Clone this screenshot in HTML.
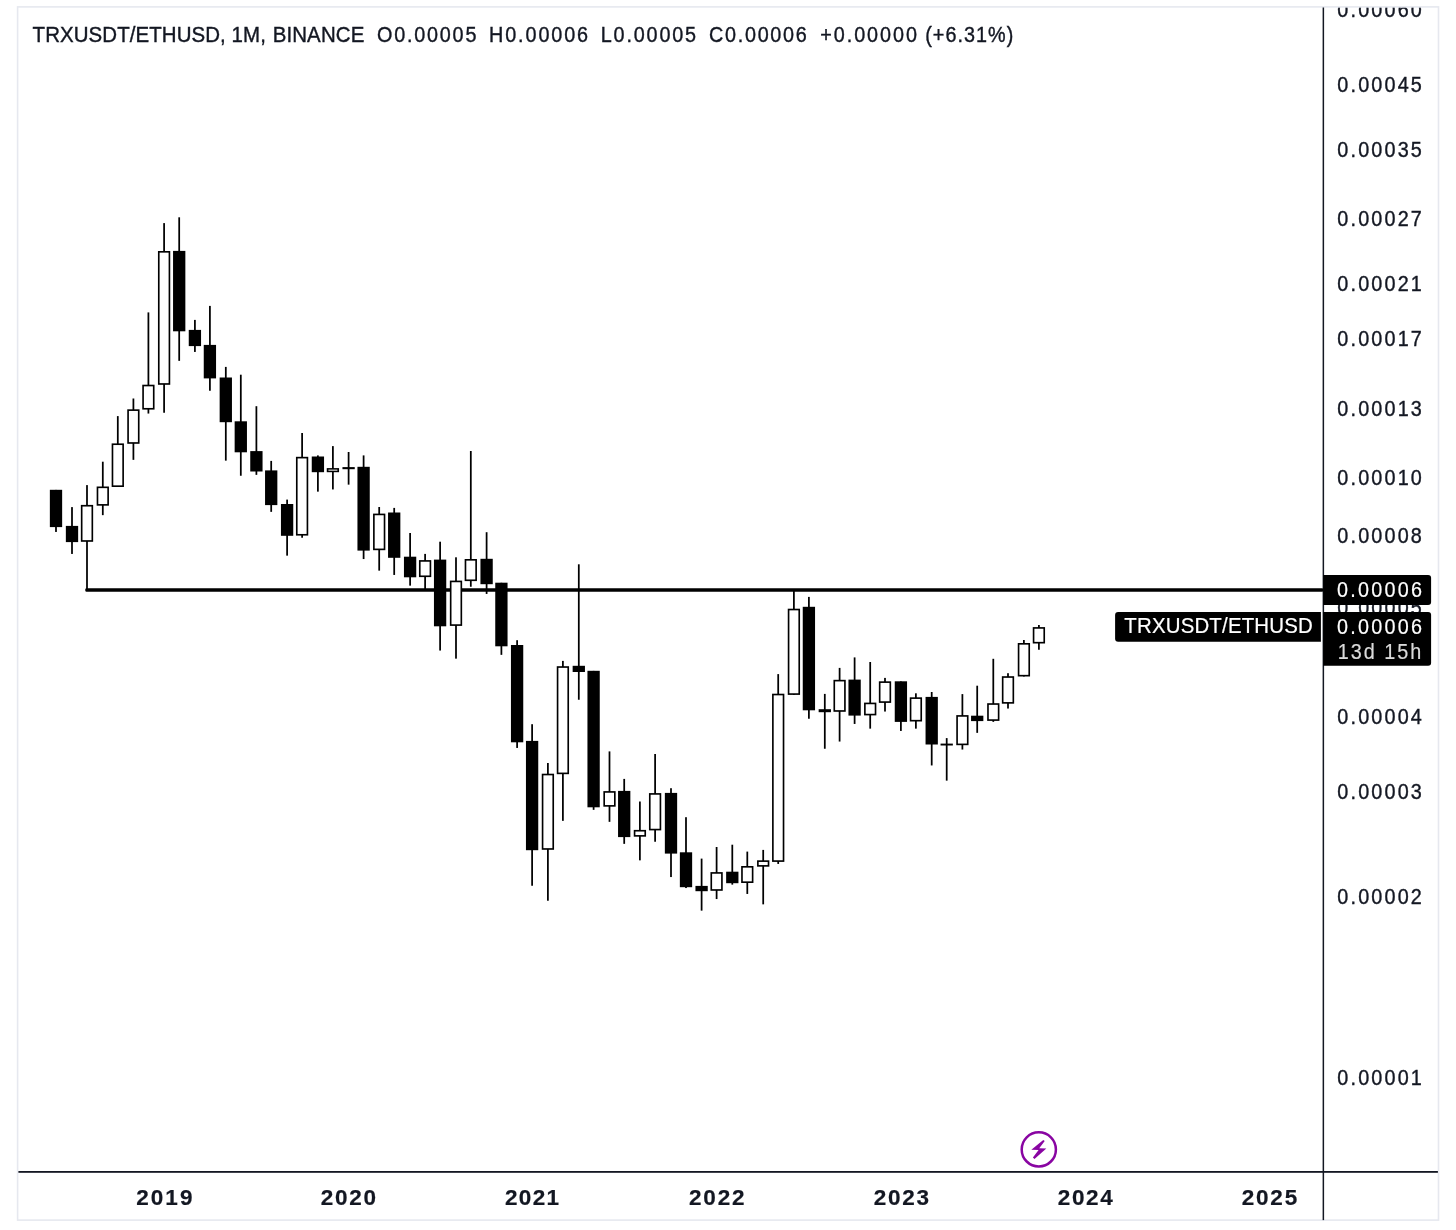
<!DOCTYPE html>
<html lang="en"><head><meta charset="utf-8"><title>TRXUSDT/ETHUSD, 1M, BINANCE</title>
<style>html,body{margin:0;padding:0;background:#fff;}body{width:1456px;height:1230px;overflow:hidden;font-family:"Liberation Sans",sans-serif;}svg{display:block}</style>
</head><body>
<div id="chart" style="will-change:transform;width:1456px;height:1230px">
<svg width="1456" height="1230" viewBox="0 0 1456 1230" font-family="Liberation Sans, sans-serif" xml:space="preserve">
<rect width="1456" height="1230" fill="#fff"/>
<!-- price scale labels (clipped by frame) -->
<clipPath id="cp"><rect x="17.6" y="6.9" width="1420.9" height="1213.2"/></clipPath>
<g clip-path="url(#cp)">
<text transform="translate(1337.35,16.7) scale(0.9,1)" font-size="22" letter-spacing="2.407" fill="#131722" stroke="#131722" stroke-width="0.4">0.00060</text>
<text transform="translate(1337.35,92.2) scale(0.9,1)" font-size="22" letter-spacing="2.407" fill="#131722" stroke="#131722" stroke-width="0.4">0.00045</text>
<text transform="translate(1337.35,157) scale(0.9,1)" font-size="22" letter-spacing="2.407" fill="#131722" stroke="#131722" stroke-width="0.4">0.00035</text>
<text transform="translate(1337.35,225.9) scale(0.9,1)" font-size="22" letter-spacing="2.407" fill="#131722" stroke="#131722" stroke-width="0.4">0.00027</text>
<text transform="translate(1337.35,290.9) scale(0.9,1)" font-size="22" letter-spacing="2.407" fill="#131722" stroke="#131722" stroke-width="0.4">0.00021</text>
<text transform="translate(1337.35,346) scale(0.9,1)" font-size="22" letter-spacing="2.407" fill="#131722" stroke="#131722" stroke-width="0.4">0.00017</text>
<text transform="translate(1337.35,416.4) scale(0.9,1)" font-size="22" letter-spacing="2.407" fill="#131722" stroke="#131722" stroke-width="0.4">0.00013</text>
<text transform="translate(1337.35,484.9) scale(0.9,1)" font-size="22" letter-spacing="2.407" fill="#131722" stroke="#131722" stroke-width="0.4">0.00010</text>
<text transform="translate(1337.35,543.2) scale(0.9,1)" font-size="22" letter-spacing="2.407" fill="#131722" stroke="#131722" stroke-width="0.4">0.00008</text>
<text transform="translate(1337.35,614.6) scale(0.9,1)" font-size="22" letter-spacing="2.407" fill="#131722" stroke="#131722" stroke-width="0.4">0.00005</text>
<text transform="translate(1337.35,723.9) scale(0.9,1)" font-size="22" letter-spacing="2.407" fill="#131722" stroke="#131722" stroke-width="0.4">0.00004</text>
<text transform="translate(1337.35,799.1) scale(0.9,1)" font-size="22" letter-spacing="2.407" fill="#131722" stroke="#131722" stroke-width="0.4">0.00003</text>
<text transform="translate(1337.35,904.4) scale(0.9,1)" font-size="22" letter-spacing="2.407" fill="#131722" stroke="#131722" stroke-width="0.4">0.00002</text>
<text transform="translate(1337.35,1085.4) scale(0.9,1)" font-size="22" letter-spacing="2.407" fill="#131722" stroke="#131722" stroke-width="0.4">0.00001</text>
</g>
<!-- frame -->
<rect x="17.6" y="6.9" width="1420.9" height="1213.2" fill="none" stroke="#e6e8ef" stroke-width="1.6"/>
<!-- axes -->
<rect x="1322.6" y="7.5" width="1.5" height="1212.6" fill="#131722"/>
<rect x="18.4" y="1171.0" width="1419.5" height="1.8" fill="#131722"/>
<!-- header -->
<g>
<text transform="translate(32.6,42) scale(0.93,1)" font-size="22" letter-spacing="0.088" fill="#131722" stroke="#131722" stroke-width="0.4">TRXUSDT/ETHUSD,</text>
<text transform="translate(231.5,42) scale(0.93,1)" font-size="22" letter-spacing="0.242" fill="#131722" stroke="#131722" stroke-width="0.4">1M,</text>
<text transform="translate(272.65,42) scale(0.93,1)" font-size="22" letter-spacing="0.134" fill="#131722" stroke="#131722" stroke-width="0.4">BINANCE</text>
<text transform="translate(377,42) scale(0.9,1)" font-size="22" letter-spacing="1.984" fill="#131722" stroke="#131722" stroke-width="0.4">O0.00005</text>
<text transform="translate(489.05,42) scale(0.9,1)" font-size="22" letter-spacing="2.103" fill="#131722" stroke="#131722" stroke-width="0.4">H0.00006</text>
<text transform="translate(600.75,42) scale(0.9,1)" font-size="22" letter-spacing="2.032" fill="#131722" stroke="#131722" stroke-width="0.4">L0.00005</text>
<text transform="translate(709,42) scale(0.9,1)" font-size="22" letter-spacing="1.905" fill="#131722" stroke="#131722" stroke-width="0.4">C0.00006</text>
<text transform="translate(820.3,42) scale(0.9,1)" font-size="22" letter-spacing="2.151" fill="#131722" stroke="#131722" stroke-width="0.4">+0.00000</text>
<text transform="translate(925.15,42) scale(0.9,1)" font-size="22" letter-spacing="1.167" fill="#131722" stroke="#131722" stroke-width="0.4">(+6.31%)</text>
<text transform="translate(136.15,1204.9) scale(1.0,1)" font-size="22.5" font-weight="700" letter-spacing="2.067" fill="#131722" stroke="#131722" stroke-width="0.2">2019</text>
<text transform="translate(320.85,1204.9) scale(1.0,1)" font-size="22.5" font-weight="700" letter-spacing="1.733" fill="#131722" stroke="#131722" stroke-width="0.2">2020</text>
<text transform="translate(505.05,1204.9) scale(1.0,1)" font-size="22.5" font-weight="700" letter-spacing="1.283" fill="#131722" stroke="#131722" stroke-width="0.2">2021</text>
<text transform="translate(689.05,1204.9) scale(1.0,1)" font-size="22.5" font-weight="700" letter-spacing="1.800" fill="#131722" stroke="#131722" stroke-width="0.2">2022</text>
<text transform="translate(873.65,1204.9) scale(1.0,1)" font-size="22.5" font-weight="700" letter-spacing="1.800" fill="#131722" stroke="#131722" stroke-width="0.2">2023</text>
<text transform="translate(1057.75,1204.9) scale(1.0,1)" font-size="22.5" font-weight="700" letter-spacing="1.650" fill="#131722" stroke="#131722" stroke-width="0.2">2024</text>
<text transform="translate(1241.65,1204.9) scale(1.0,1)" font-size="22.5" font-weight="700" letter-spacing="1.817" fill="#131722" stroke="#131722" stroke-width="0.2">2025</text>
</g>
<!-- horizontal ray -->
<rect x="85.3" y="588.2" width="1238" height="3.5" rx="1.2" fill="#000000"/>
<!-- candles -->
<g fill="#000000" shape-rendering="auto">
<rect x="55.12" y="489.9" width="1.75" height="42.05"/>
<rect x="49.85" y="489.8" width="12.3" height="37.3"/>
<rect x="71.12" y="507.1" width="1.75" height="46.85"/>
<rect x="65.85" y="525.9" width="12.3" height="16.2"/>
<rect x="86.12" y="485.1" width="1.75" height="105.05"/>
<rect x="80.85" y="504.9" width="12.3" height="36.9"/>
<rect x="82.5" y="506.55" width="9" height="33.6" fill="#fff"/>
<rect x="101.92" y="461.7" width="1.75" height="53.45"/>
<rect x="96.65" y="486.5" width="12.3" height="19.2"/>
<rect x="98.3" y="488.15" width="9" height="15.9" fill="#fff"/>
<rect x="116.92" y="416.1" width="1.75" height="70.9"/>
<rect x="111.65" y="443.4" width="12.3" height="43.6"/>
<rect x="113.3" y="445.05" width="9" height="40.3" fill="#fff"/>
<rect x="132.53" y="398.5" width="1.75" height="61.35"/>
<rect x="127.25" y="409.3" width="12.3" height="34.5"/>
<rect x="128.9" y="410.95" width="9" height="31.2" fill="#fff"/>
<rect x="147.53" y="312.4" width="1.75" height="101.15"/>
<rect x="142.25" y="384.7" width="12.3" height="24.9"/>
<rect x="143.9" y="386.35" width="9" height="21.6" fill="#fff"/>
<rect x="163.22" y="223.1" width="1.75" height="189.65"/>
<rect x="157.95" y="251" width="12.3" height="133.8"/>
<rect x="159.6" y="252.65" width="9" height="130.5" fill="#fff"/>
<rect x="178.32" y="217.3" width="1.75" height="143.55"/>
<rect x="173.05" y="250.9" width="12.3" height="80.4"/>
<rect x="194.03" y="319.9" width="1.75" height="32.05"/>
<rect x="188.75" y="329.9" width="12.3" height="16.2"/>
<rect x="209.03" y="305.9" width="1.75" height="84.85"/>
<rect x="203.75" y="344.9" width="12.3" height="33.5"/>
<rect x="224.93" y="366.9" width="1.75" height="93.75"/>
<rect x="219.65" y="377.5" width="12.3" height="44.7"/>
<rect x="239.93" y="374.7" width="1.75" height="101.05"/>
<rect x="234.65" y="421.3" width="12.3" height="31"/>
<rect x="255.52" y="406.2" width="1.75" height="68.65"/>
<rect x="250.25" y="451.1" width="12.3" height="20.4"/>
<rect x="270.32" y="460.9" width="1.75" height="50.95"/>
<rect x="265.05" y="470.4" width="12.3" height="34.7"/>
<rect x="286.23" y="499.6" width="1.75" height="56.05"/>
<rect x="280.95" y="504" width="12.3" height="31.8"/>
<rect x="301.23" y="433" width="1.75" height="104.75"/>
<rect x="295.95" y="456.8" width="12.3" height="78.8"/>
<rect x="297.6" y="458.45" width="9" height="75.5" fill="#fff"/>
<rect x="317.02" y="455.4" width="1.75" height="36.25"/>
<rect x="311.75" y="456.5" width="12.3" height="15.7"/>
<rect x="332.02" y="446.1" width="1.75" height="43.35"/>
<rect x="326.75" y="468.1" width="12.3" height="4.1"/>
<rect x="328.4" y="469.65" width="9" height="1" fill="#fff"/>
<rect x="347.73" y="452" width="1.75" height="32.65"/>
<rect x="342.45" y="467.1" width="12.3" height="2.1"/>
<rect x="362.73" y="455.4" width="1.75" height="103.65"/>
<rect x="357.45" y="466.8" width="12.3" height="83.8"/>
<rect x="378.32" y="507" width="1.75" height="63.65"/>
<rect x="373.05" y="513.6" width="12.3" height="36.6"/>
<rect x="374.7" y="515.25" width="9" height="33.3" fill="#fff"/>
<rect x="393.32" y="507.9" width="1.75" height="67.05"/>
<rect x="388.05" y="512.5" width="12.3" height="45.3"/>
<rect x="409.23" y="533" width="1.75" height="52.65"/>
<rect x="403.95" y="556.7" width="12.3" height="20.6"/>
<rect x="424.23" y="553.9" width="1.75" height="35.25"/>
<rect x="418.95" y="560.1" width="12.3" height="17"/>
<rect x="420.6" y="561.75" width="9" height="13.7" fill="#fff"/>
<rect x="439.23" y="541.7" width="1.75" height="108.85"/>
<rect x="433.95" y="559.6" width="12.3" height="66.7"/>
<rect x="455.12" y="557.3" width="1.75" height="101.35"/>
<rect x="449.85" y="580.6" width="12.3" height="45.3"/>
<rect x="451.5" y="582.25" width="9" height="42" fill="#fff"/>
<rect x="469.93" y="451" width="1.75" height="135.75"/>
<rect x="464.65" y="559" width="12.3" height="22.1"/>
<rect x="466.3" y="560.65" width="9" height="18.8" fill="#fff"/>
<rect x="485.73" y="532.2" width="1.75" height="61.75"/>
<rect x="480.45" y="558.8" width="12.3" height="25.4"/>
<rect x="500.52" y="582.8" width="1.75" height="72.05"/>
<rect x="495.25" y="582.7" width="12.3" height="63.6"/>
<rect x="516.23" y="640.2" width="1.75" height="107.75"/>
<rect x="510.95" y="645" width="12.3" height="97.3"/>
<rect x="531.23" y="724.2" width="1.75" height="161.55"/>
<rect x="525.95" y="740.9" width="12.3" height="109.3"/>
<rect x="547.02" y="763" width="1.75" height="137.75"/>
<rect x="541.75" y="773.7" width="12.3" height="76.1"/>
<rect x="543.4" y="775.35" width="9" height="72.8" fill="#fff"/>
<rect x="562.02" y="660.9" width="1.75" height="159.95"/>
<rect x="556.75" y="666.2" width="12.3" height="108"/>
<rect x="558.4" y="667.85" width="9" height="104.7" fill="#fff"/>
<rect x="577.92" y="564.3" width="1.75" height="135.45"/>
<rect x="572.65" y="665.8" width="12.3" height="6.2"/>
<rect x="592.73" y="670.9" width="1.75" height="138.95"/>
<rect x="587.45" y="670.8" width="12.3" height="136.5"/>
<rect x="608.62" y="751.4" width="1.75" height="70.45"/>
<rect x="603.35" y="791.1" width="12.3" height="15.6"/>
<rect x="605" y="792.75" width="9" height="12.3" fill="#fff"/>
<rect x="623.33" y="778.9" width="1.75" height="64.95"/>
<rect x="618.05" y="790.9" width="12.3" height="46.2"/>
<rect x="639.02" y="801.5" width="1.75" height="58.85"/>
<rect x="633.75" y="829.9" width="12.3" height="6.8"/>
<rect x="635.4" y="831.55" width="9" height="3.5" fill="#fff"/>
<rect x="654.23" y="754" width="1.75" height="87.75"/>
<rect x="648.95" y="793.1" width="12.3" height="37.3"/>
<rect x="650.6" y="794.75" width="9" height="34" fill="#fff"/>
<rect x="670.12" y="788.2" width="1.75" height="88.85"/>
<rect x="664.85" y="792.9" width="12.3" height="60.7"/>
<rect x="685.12" y="817.2" width="1.75" height="70.85"/>
<rect x="679.85" y="852.3" width="12.3" height="34.9"/>
<rect x="700.73" y="858.6" width="1.75" height="52.05"/>
<rect x="695.45" y="885.9" width="12.3" height="5.3"/>
<rect x="715.73" y="847" width="1.75" height="52.05"/>
<rect x="710.45" y="872.1" width="12.3" height="18.7"/>
<rect x="712.1" y="873.75" width="9" height="15.4" fill="#fff"/>
<rect x="731.42" y="844.7" width="1.75" height="39.95"/>
<rect x="726.15" y="871.7" width="12.3" height="11.5"/>
<rect x="746.42" y="851.6" width="1.75" height="42.35"/>
<rect x="741.15" y="866" width="12.3" height="17"/>
<rect x="742.8" y="867.65" width="9" height="13.7" fill="#fff"/>
<rect x="762.33" y="849.9" width="1.75" height="54.45"/>
<rect x="757.05" y="860.3" width="12.3" height="6.4"/>
<rect x="758.7" y="861.95" width="9" height="3.1" fill="#fff"/>
<rect x="777.33" y="674.1" width="1.75" height="189.85"/>
<rect x="772.05" y="693.7" width="12.3" height="168.2"/>
<rect x="773.7" y="695.35" width="9" height="164.9" fill="#fff"/>
<rect x="793.02" y="589.9" width="1.75" height="105"/>
<rect x="787.75" y="608.7" width="12.3" height="86.2"/>
<rect x="789.4" y="610.35" width="9" height="82.9" fill="#fff"/>
<rect x="808.02" y="596.9" width="1.75" height="121.85"/>
<rect x="802.75" y="606.8" width="12.3" height="103.5"/>
<rect x="823.92" y="693.9" width="1.75" height="54.85"/>
<rect x="818.65" y="709.2" width="12.3" height="3"/>
<rect x="838.73" y="667.9" width="1.75" height="73.65"/>
<rect x="833.45" y="679.8" width="12.3" height="32"/>
<rect x="835.1" y="681.45" width="9" height="28.7" fill="#fff"/>
<rect x="853.73" y="657.4" width="1.75" height="66.55"/>
<rect x="848.45" y="679.6" width="12.3" height="36"/>
<rect x="869.33" y="662" width="1.75" height="66.65"/>
<rect x="864.05" y="702.6" width="12.3" height="12.8"/>
<rect x="865.7" y="704.25" width="9" height="9.5" fill="#fff"/>
<rect x="884.12" y="677.9" width="1.75" height="33.65"/>
<rect x="878.85" y="681.3" width="12.3" height="21.6"/>
<rect x="880.5" y="682.95" width="9" height="18.3" fill="#fff"/>
<rect x="900.02" y="681.4" width="1.75" height="49.55"/>
<rect x="894.75" y="681.3" width="12.3" height="40.6"/>
<rect x="915.02" y="693.3" width="1.75" height="35.35"/>
<rect x="909.75" y="697.3" width="12.3" height="24.2"/>
<rect x="911.4" y="698.95" width="9" height="20.9" fill="#fff"/>
<rect x="930.83" y="692" width="1.75" height="73.45"/>
<rect x="925.55" y="696.9" width="12.3" height="47.6"/>
<rect x="945.83" y="738.1" width="1.75" height="42.55"/>
<rect x="940.55" y="743.6" width="12.3" height="1.9"/>
<rect x="961.52" y="694.1" width="1.75" height="55.45"/>
<rect x="956.25" y="715.1" width="12.3" height="30.1"/>
<rect x="957.9" y="716.75" width="9" height="26.8" fill="#fff"/>
<rect x="976.33" y="685.7" width="1.75" height="47.15"/>
<rect x="971.05" y="715.7" width="12.3" height="5.4"/>
<rect x="992.42" y="658.8" width="1.75" height="63.05"/>
<rect x="987.15" y="703.2" width="12.3" height="17.7"/>
<rect x="988.8" y="704.85" width="9" height="14.4" fill="#fff"/>
<rect x="1007.12" y="673.2" width="1.75" height="35.35"/>
<rect x="1001.85" y="676.2" width="12.3" height="27.5"/>
<rect x="1003.5" y="677.85" width="9" height="24.2" fill="#fff"/>
<rect x="1023.02" y="640" width="1.75" height="36.5"/>
<rect x="1017.75" y="643" width="12.3" height="33.5"/>
<rect x="1019.4" y="644.65" width="9" height="30.2" fill="#fff"/>
<rect x="1038.03" y="625" width="1.75" height="24.75"/>
<rect x="1032.75" y="627.1" width="12.3" height="16.4"/>
<rect x="1034.4" y="628.75" width="9" height="13.1" fill="#fff"/>
</g>
<!-- price labels -->
<path d="M1323.2 574.9H1428.1a3 3 0 0 1 3 3V601.9a3 3 0 0 1 -3 3H1323.2Z" fill="#000000"/>
<path d="M1323.2 612H1428.1a3 3 0 0 1 3 3V662.8a3 3 0 0 1 -3 3H1323.2Z" fill="#000000"/>
<path d="M1320.9 612H1118.1a3 3 0 0 0 -3 3V638.7a3 3 0 0 0 3 3H1320.9Z" fill="#000000"/>
<text transform="translate(1337.05,597.2) scale(0.9,1)" font-size="22" letter-spacing="2.500" fill="#fff" stroke="#fff" stroke-width="0.2">0.00006</text>
<text transform="translate(1337.05,633.9) scale(0.9,1)" font-size="22" letter-spacing="2.500" fill="#fff" stroke="#fff" stroke-width="0.2">0.00006</text>
<text transform="translate(1337.8,658.5) scale(0.9,1)" font-size="22" letter-spacing="2.194" fill="#dadada" stroke="#dadada" stroke-width="0.2">13d 15h</text>
<text transform="translate(1124.3,633) scale(0.93,1)" font-size="22" letter-spacing="0.178" fill="#fff" stroke="#fff" stroke-width="0.2">TRXUSDT/ETHUSD</text>
<!-- lightning icon -->
<circle cx="1038.8" cy="1149.4" r="17.1" fill="none" stroke="#8905a2" stroke-width="2.5"/>
<path d="M1043.27 1139.98L1044.73 1141.12L1039.24 1148.27L1046.32 1148.39L1034.49 1158.88L1032.9 1157.54L1038.59 1150.05L1031.32 1149.8Z" fill="#8905a2"/>
</svg>
</div>
</body></html>
